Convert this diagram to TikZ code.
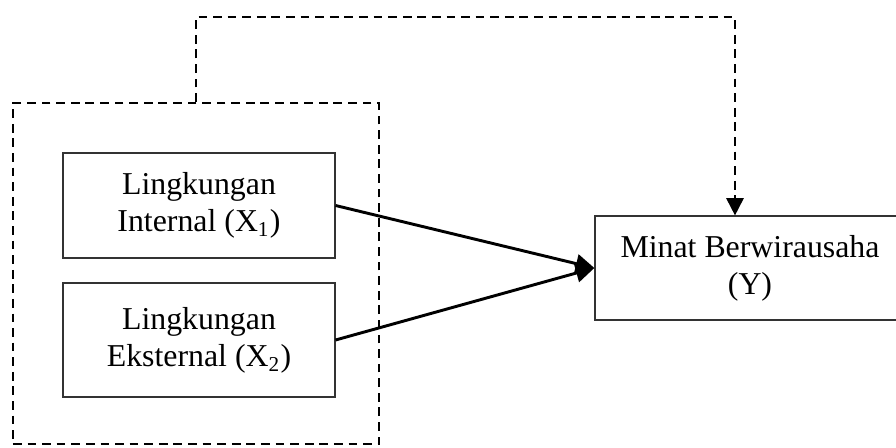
\documentclass[tikz,border=0pt]{standalone}
\usepackage{fontspec}
\setmainfont{Liberation Serif}
\usetikzlibrary{arrows.meta}
\tikzset{
	kotak/.style={draw=black!80, line width=0.45pt, align=center, inner sep=0pt, font=\fontsize{12}{14}\selectfont},
	garis/.style={line width=1.1pt, -{Triangle[length=7pt,width=7pt]}},
	putus/.style={line width=0.7pt, dash pattern=on 3.3pt off 2.2pt}
}
\begin{document}
\begin{tikzpicture}[x=0.377pt,y=-0.377pt]
	\useasboundingbox (0,0) rectangle (896,447);
	\node[kotak, minimum width=102.5pt, minimum height=39.6pt] (x1) at (199,205.5) {Lingkungan\\Internal (X\textsubscript{1})};
	\node[kotak, minimum width=102.5pt, minimum height=43pt] (x2) at (199,340) {Lingkungan\\Eksternal (X\textsubscript{2})};
	\node[kotak, minimum width=116.9pt, minimum height=39.2pt] (y) at (750,268) {Minat Berwirausaha\\(Y)};
	\node[putus, draw, minimum width=138pt, minimum height=128.6pt] (grup) at (196,273.5) {};
	\coordinate (atas) at (735,17);
	\draw[garis] (x1.east) -- (y.west);
	\draw[garis] (x2.east) -- (y.west);
	\draw[putus, -{Triangle[length=6.5pt,width=6.5pt]}] (grup.north) |- (atas) -- (atas |- y.north);
\end{tikzpicture}
\end{document}
